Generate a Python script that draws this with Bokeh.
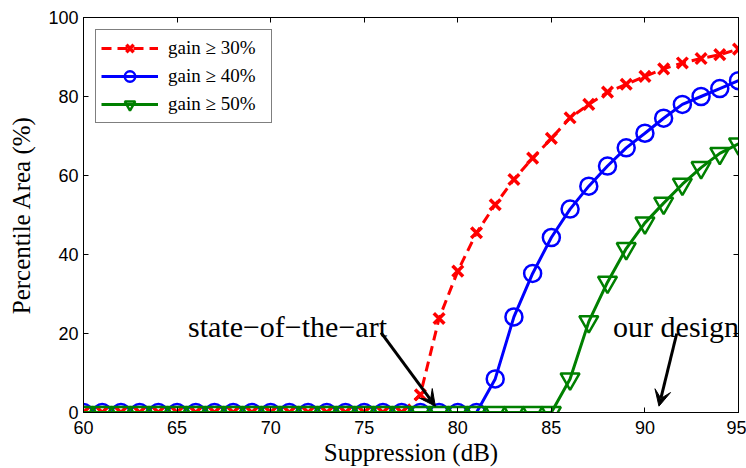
from bokeh.plotting import figure
from bokeh.models import (LinearAxis, Legend, LegendItem, Label, Arrow, VeeHead,
                          FixedTicker, Range1d)
from bokeh.embed import file_html
from bokeh.resources import INLINE

# ---------------- data ----------------
suppression_db = list(range(60, 96))
gain30 = [0, 0, 0, 0, 0, 0, 0, 0, 0, 0, 0, 0, 0, 0, 0, 0, 0, 0,
          4.5, 23.8, 35.8, 45.5, 52.6, 59.0, 64.4, 69.4, 74.6, 78.0,
          81.1, 83.1, 85.1, 87.0, 88.5, 89.6, 90.6, 92.0]
gain40 = [0, 0, 0, 0, 0, 0, 0, 0, 0, 0, 0, 0, 0, 0, 0, 0, 0, 0, 0, 0, 0, 0,
          8.5, 24.2, 35.2, 44.3, 51.5, 57.3, 62.4, 67.0, 70.7, 74.5,
          78.0, 80.0, 82.0, 84.0]
gain50 = [0, 0, 0, 0, 0, 0, 0, 0, 0, 0, 0, 0, 0, 0, 0, 0, 0, 0, 0, 0, 0, 0,
          0, 0, 0, 0,
          8.5, 23.0, 33.0, 41.5, 48.0, 53.0, 57.8, 62.0, 65.6, 68.0]
series_labels = ["gain \u2265 30%", "gain \u2265 40%", "gain \u2265 50%"]
x_ticks = [60, 65, 70, 75, 80, 85, 90, 95]
y_ticks = [0, 20, 40, 60, 80, 100]

# annotation placement (data units)
sota_text = "state\u2212of\u2212the\u2212art"
sota_text_pos = (70.9, 21.7)
sota_arrow = (75.9, 20.2, 78.8, 1.6)
ours_text = "our design"
ours_text_pos = (88.3, 21.7)
ours_arrow = (91.7, 20.0, 90.75, 1.6)

RED, BLUE, GREEN = "#ff0000", "#0000ff", "#008000"
SERIF = "Liberation Serif"
SANS = "Liberation Sans"

p = figure(width=746, height=468, output_backend="svg", toolbar_location=None,
           x_range=Range1d(60, 95), y_range=Range1d(0, 100),
           min_border_left=83, min_border_right=8, min_border_top=17,
           min_border_bottom=0)
p.xgrid.visible = False
p.ygrid.visible = False
p.outline_line_color = "black"
p.outline_line_width = 1
p.background_fill_color = "white"
p.border_fill_color = "white"

p.xaxis.ticker = FixedTicker(ticks=x_ticks)
p.yaxis.ticker = FixedTicker(ticks=y_ticks)
for ax in (p.xaxis[0], p.yaxis[0]):
    ax.major_tick_in = 5
    ax.major_tick_out = 0
    ax.minor_tick_in = 0
    ax.minor_tick_out = 0
    ax.axis_line_color = "black"
    ax.major_tick_line_color = "black"
    ax.major_label_text_font = SANS
    ax.major_label_text_font_size = "18px"
    ax.major_label_text_color = "black"
    ax.axis_label_text_font = SERIF
    ax.axis_label_text_font_size = "25px"
    ax.axis_label_text_font_style = "normal"
    ax.axis_label_text_color = "black"
p.xaxis.axis_label = "Suppression (dB)"
p.yaxis.axis_label = "Percentile Area (%)"
p.xaxis.major_label_standoff = 8
p.xaxis.axis_label_standoff = 2
p.yaxis.major_label_standoff = 5
p.yaxis.axis_label_standoff = 10

for loc, ticks in (("above", x_ticks), ("right", y_ticks)):
    ax = LinearAxis(ticker=FixedTicker(ticks=ticks))
    ax.major_label_text_font_size = "0px"
    ax.major_label_standoff = 0
    ax.major_tick_in = 5
    ax.major_tick_out = 0
    ax.minor_tick_in = 0
    ax.minor_tick_out = 0
    ax.axis_line_color = "black"
    p.add_layout(ax, loc)

l1 = p.line(suppression_db, gain30, line_color=RED, line_width=3, line_dash="10 6")
s1 = p.scatter(suppression_db, gain30, marker="x", size=15, line_color=RED, line_width=3.5)
l2 = p.line(suppression_db, gain40, line_color=BLUE, line_width=3)
s2 = p.scatter(suppression_db, gain40, marker="circle", size=17, line_color=BLUE,
               line_width=2.5, fill_color=None)
l3 = p.line(suppression_db, gain50, line_color=GREEN, line_width=3)
s3 = p.scatter(suppression_db, gain50, marker="inverted_triangle", size=19,
               line_color=GREEN, line_width=2.5, fill_color=None)

legend = Legend(items=[LegendItem(label=series_labels[0], renderers=[l1, s1]),
                       LegendItem(label=series_labels[1], renderers=[l2, s2]),
                       LegendItem(label=series_labels[2], renderers=[l3, s3])],
                location="top_left", margin=12, padding=5, spacing=2,
                glyph_width=57, glyph_height=26, label_height=20,
                label_width=98,
                label_standoff=10, label_text_font=SERIF,
                label_text_font_size="19px", label_text_color="black",
                border_line_color="black", border_line_width=1,
                background_fill_alpha=1.0)
p.add_layout(legend)

for txt, (tx, ty) in ((sota_text, sota_text_pos), (ours_text, ours_text_pos)):
    p.add_layout(Label(x=tx, y=ty, text=txt, text_font=SERIF, text_font_size="30px",
                       text_color="black",
                       text_align="center" if txt == sota_text else "left",
                       text_baseline="alphabetic"))

for (xs, ys, xe, ye) in (sota_arrow, ours_arrow):
    p.add_layout(Arrow(x_start=xs, y_start=ys, x_end=xe, y_end=ye, line_width=3,
                       line_color="black",
                       end=VeeHead(size=16, fill_color="black", line_color="black",
                                   line_width=1)))

open("out.html", "w").write(file_html(p, INLINE))
